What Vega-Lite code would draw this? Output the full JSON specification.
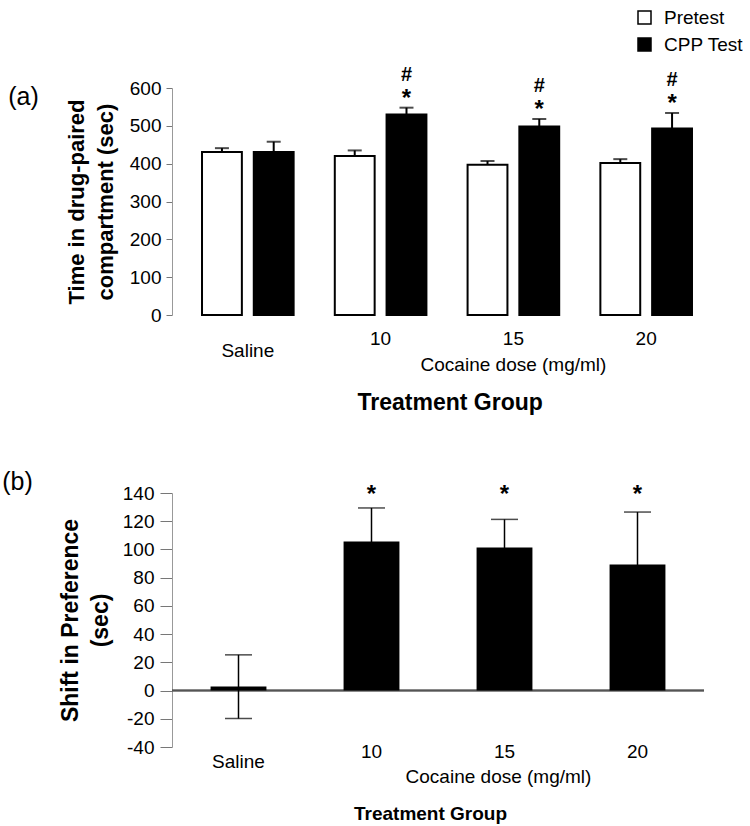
{
  "$schema": "https://vega.github.io/schema/vega-lite/v6.json",
  "background": "white",
  "padding": {"left": 2, "top": 8, "right": 5, "bottom": 5},
  "config": {
    "font": "Liberation Sans",
    "view": {"stroke": null},
    "axis": {"labelColor": "black", "titleColor": "black", "labelFont": "Liberation Sans", "titleFont": "Liberation Sans", "labelOverlap": false}
  },
  "spacing": 55,
  "vconcat": [
    {
      "title": {"text": "Treatment Group", "orient": "bottom", "anchor": "middle", "fontSize": 23, "fontWeight": "bold", "offset": 18, "dx": 85},
      "vconcat": [
        {
          "width": 550,
          "height": 227,
          "title": {"text": "(a)", "anchor": "start", "frame": "bounds", "fontSize": 25, "fontWeight": "normal", "dx": -57, "dy": 45, "offset": 0},
          "data": {"values": [
            {"group": "Saline", "phase": "Pretest", "value": 431, "hi": 441},
            {"group": "Saline", "phase": "CPP Test", "value": 431, "hi": 458},
            {"group": "10", "phase": "Pretest", "value": 420, "hi": 435},
            {"group": "10", "phase": "CPP Test", "value": 530, "hi": 548, "star": "*", "hash": "#"},
            {"group": "15", "phase": "Pretest", "value": 397, "hi": 407},
            {"group": "15", "phase": "CPP Test", "value": 498, "hi": 518, "star": "*", "hash": "#"},
            {"group": "20", "phase": "Pretest", "value": 402, "hi": 412},
            {"group": "20", "phase": "CPP Test", "value": 493, "hi": 534, "star": "*", "hash": "#"}
          ]},
          "encoding": {
            "x": {"field": "group", "type": "nominal", "sort": ["Saline", "10", "15", "20"],
              "scale": {"paddingInner": 0.31, "paddingOuter": 0.226},
              "axis": {"domain": false, "ticks": false, "labelAngle": 0, "labelFontSize": 19,
                "labelPadding": {"condition": {"test": "datum.value == 'Saline'", "value": 26}, "value": 14},
                "title": "Cocaine dose (mg/ml)", "titleFontSize": 19, "titleFontWeight": "normal",
                "titleX": 341, "titleY": 40, "titleAlign": "center", "titleBaseline": "top"}},
            "xOffset": {"field": "phase", "type": "nominal", "sort": ["Pretest", "CPP Test"], "scale": {"paddingInner": 0.23}},
            "y": {"field": "value", "type": "quantitative",
              "scale": {"domain": [0, 600], "nice": false},
              "axis": {"values": [0, 100, 200, 300, 400, 500, 600], "tickCount": 7, "grid": false, "domainColor": "#999", "tickColor": "#777", "tickSize": 6,
                "labelFontSize": 19, "labelPadding": 5, "labelOverlap": false,
                "title": ["Time in drug-paired", "compartment (sec)"], "titleFontSize": 22, "titleFontWeight": "bold", "titleLineHeight": 29, "titlePadding": 12}}
          },
          "layer": [
            {
              "mark": {"type": "bar", "stroke": "black", "strokeWidth": 2},
              "encoding": {
                "fill": {"field": "phase", "type": "nominal", "sort": ["Pretest", "CPP Test"],
                  "scale": {"domain": ["Pretest", "CPP Test"], "range": ["white", "black"]},
                  "legend": {"title": null, "orient": "none", "legendX": 463, "legendY": -80, "symbolType": "square", "symbolSize": 169,
                    "symbolStrokeColor": "black", "symbolStrokeWidth": 1.5, "labelFontSize": 19, "labelColor": "black", "rowPadding": 7, "labelOffset": 10}}
              }
            },
            {
              "mark": {"type": "rule", "color": "black", "strokeWidth": 2},
              "encoding": {"y2": {"field": "hi"}}
            },
            {
              "mark": {"type": "tick", "color": "black", "size": 14, "thickness": 2},
              "encoding": {"y": {"field": "hi", "type": "quantitative", "axis": {"values": [0, 100, 200, 300, 400, 500, 600], "labelOverlap": false}}}
            },
            {
              "transform": [{"filter": "datum.star"}],
              "mark": {"type": "text", "fontSize": 24, "fontWeight": "bold", "baseline": "middle", "dy": -9},
              "encoding": {"y": {"field": "hi", "type": "quantitative", "axis": {"values": [0, 100, 200, 300, 400, 500, 600], "labelOverlap": false}}, "text": {"field": "star"}}
            },
            {
              "transform": [{"filter": "datum.hash"}],
              "mark": {"type": "text", "fontSize": 20, "fontWeight": "bold", "baseline": "middle", "dy": -33},
              "encoding": {"y": {"field": "hi", "type": "quantitative", "axis": {"values": [0, 100, 200, 300, 400, 500, 600], "labelOverlap": false}}, "text": {"field": "hash"}}
            }
          ]
        }
      ]
    },
    {
      "title": {"text": "Treatment Group", "orient": "bottom", "anchor": "middle", "fontSize": 19, "fontWeight": "bold", "offset": 19, "dx": 77},
      "vconcat": [
        {
          "width": 532,
          "height": 254,
          "title": {"text": "(b)", "anchor": "start", "frame": "bounds", "fontSize": 25, "fontWeight": "normal", "dx": -57, "dy": 12, "offset": 0},
          "data": {"values": [
            {"group": "Saline", "value": 2.8, "lo": -19.8, "hi": 25.3},
            {"group": "10", "value": 105.7, "lo": 82, "hi": 129.4, "star": "*"},
            {"group": "15", "value": 101.4, "lo": 81.5, "hi": 121.3, "star": "*"},
            {"group": "20", "value": 89.4, "lo": 52.3, "hi": 126.5, "star": "*"}
          ]},
          "encoding": {
            "x": {"field": "group", "type": "nominal", "sort": ["Saline", "10", "15", "20"],
              "scale": {"paddingInner": 0.58, "paddingOuter": 0.29},
              "axis": {"domain": false, "ticks": false, "labelAngle": 0, "labelFontSize": 19,
                "labelPadding": {"condition": {"test": "datum.value == 'Saline'", "value": 5}, "value": -5},
                "title": "Cocaine dose (mg/ml)", "titleFontSize": 19, "titleFontWeight": "normal",
                "titleX": 326, "titleY": 20, "titleAlign": "center", "titleBaseline": "top"}},
            "y": {"field": "value", "type": "quantitative",
              "scale": {"domain": [-40, 140], "nice": false},
              "axis": {"values": [-40, -20, 0, 20, 40, 60, 80, 100, 120, 140], "tickCount": 10, "grid": false, "domainColor": "#999", "tickColor": "#777", "tickSize": 12,
                "labelFontSize": 19, "labelPadding": 6, "labelOverlap": false, "labelExpr": "'' + datum.value",
                "title": ["Shift in Preference", "(sec)"], "titleFontSize": 23, "titleFontWeight": "bold", "titleLineHeight": 30, "titlePadding": 10}}
          },
          "layer": [
            {
              "mark": {"type": "rule", "color": "#555", "strokeWidth": 1.5},
              "encoding": {"y": {"datum": 0, "type": "quantitative"}, "x": {"value": 0}, "x2": {"value": 532}}
            },
            {
              "mark": {"type": "rule", "color": "black", "strokeWidth": 1.5},
              "encoding": {"y": {"field": "lo", "type": "quantitative"}, "y2": {"field": "hi"}}
            },
            {
              "mark": {"type": "tick", "color": "black", "size": 27, "thickness": 1.5},
              "encoding": {"y": {"field": "hi", "type": "quantitative"}}
            },
            {
              "mark": {"type": "tick", "color": "black", "size": 27, "thickness": 1.5},
              "encoding": {"y": {"field": "lo", "type": "quantitative"}}
            },
            {
              "mark": {"type": "bar", "color": "black"},
              "encoding": {"y2": {"datum": 0}}
            },
            {
              "transform": [{"filter": "datum.star"}],
              "mark": {"type": "text", "fontSize": 24, "fontWeight": "bold", "baseline": "middle", "dy": 2},
              "encoding": {"y": {"datum": 140, "type": "quantitative"}, "text": {"field": "star"}}
            }
          ]
        }
      ]
    }
  ]
}
